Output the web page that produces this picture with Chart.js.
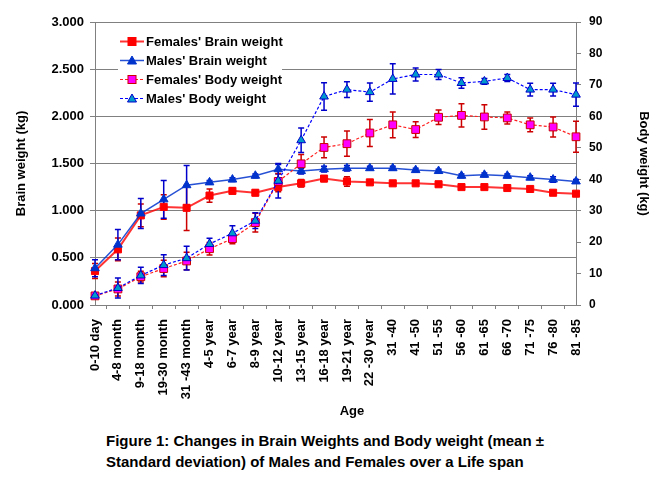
<!DOCTYPE html>
<html>
<head>
<meta charset="utf-8">
<script src="https://cdn.jsdelivr.net/npm/chart.js@4"></script>
<style>
    body { margin:0; background:#fff; font-family:Arial, "Liberation Sans", sans-serif; }
    #wrap { position:relative; width:660px; height:480px; }
    #box { position:absolute; left:0; top:0; width:660px; height:425px; }
    #legend { position:absolute; left:118px; top:30px; width:164px; height:78px; background:#fff; }
    .row { position:absolute; left:2px; height:19px; display:flex; align-items:center; font:bold 13px Arial, "Liberation Sans", sans-serif; color:#000; white-space:nowrap; }
    .row svg { margin-right:2px; }
    #age { position:absolute; left:352px; top:403px; transform:translateX(-50%); font:bold 13px Arial, "Liberation Sans", sans-serif; }
    #caption { position:absolute; left:106px; top:430px; font:bold 15px Arial, "Liberation Sans", sans-serif; line-height:21px; color:#000; }
</style>
</head>
<body>
<div id="wrap">
    <div id="box"><canvas id="chart"></canvas></div>
    <div id="legend"></div>
    <div id="age">Age</div>
    <div id="caption">Figure 1: Changes in Brain Weights and Body weight (mean ±<br>Standard deviation) of Males and Females over a Life span</div>
</div>
<script>
const ageGroups = ['0-10 day', '4-8 month', '9-18 month', '19-30 month', '31 -43 month', '4-5 year', '6-7 year', '8-9 year',
    '10-12 year', '13-15 year', '16-18 year', '19-21 year', '22 -30 year', '31 -40', '41 -50', '51 -55', '56 -60',
    '61 -65', '66 -70', '71 -75', '76 -80', '81 -85'];

// brain weight, kg (left axis)
const femaleBrain   = [0.36, 0.59, 0.95, 1.04, 1.03, 1.16, 1.21, 1.19, 1.25, 1.29, 1.34, 1.31, 1.30, 1.29, 1.29, 1.28, 1.25, 1.25, 1.24, 1.23, 1.19, 1.18];
const femaleBrainSd = [0.08, 0.12, 0.12, 0.13, 0.24, 0.07, 0.03, 0.03, 0.05, 0.04, 0.03, 0.05, 0.02, 0.02, 0.02, 0.02, 0.02, 0.02, 0.02, 0.02, 0.02, 0.02];
const maleBrain     = [0.39, 0.64, 0.97, 1.12, 1.27, 1.30, 1.33, 1.37, 1.44, 1.42, 1.44, 1.45, 1.45, 1.45, 1.43, 1.42, 1.37, 1.38, 1.37, 1.35, 1.33, 1.31];
const maleBrainSd   = [0.09, 0.16, 0.16, 0.20, 0.21, 0.02, 0.02, 0.02, 0.05, 0.03, 0.03, 0.03, 0.02, 0.02, 0.02, 0.02, 0.02, 0.02, 0.02, 0.02, 0.03, 0.02];

// body weight, kg (right axis)
const femaleBody    = [2.9, 5.1, 9.0, 11.6, 14.0, 17.9, 21.1, 26.2, 39.3, 44.9, 50.1, 51.3, 54.7, 57.3, 55.8, 59.7, 60.3, 59.8, 59.5, 57.3, 56.6, 53.5];
const femaleBodySd  = [0.5, 2.2, 1.7, 2.6, 2.8, 2.0, 1.6, 3.0, 2.5, 3.0, 3.3, 4.0, 4.3, 4.1, 2.5, 2.3, 3.7, 3.9, 1.9, 2.2, 3.2, 4.9];
const maleBody      = [3.0, 5.4, 9.4, 12.7, 14.9, 19.4, 22.8, 26.8, 39.5, 52.4, 66.3, 68.5, 67.7, 71.9, 73.3, 73.3, 70.6, 71.1, 72.2, 68.5, 68.5, 66.9];
const maleBodySd    = [0.5, 3.2, 2.6, 3.3, 3.8, 1.8, 2.4, 2.5, 5.5, 3.9, 4.4, 2.5, 2.9, 4.8, 2.1, 1.6, 1.7, 0.9, 1.1, 2.0, 2.0, 3.7];

const series = [
    { label:"Females' Brain weight", data:femaleBrain, sd:femaleBrainSd, axis:'y', line:'rgba(255,0,0,0.8)', fill:'#ff0000', edge:'#ff0000', shape:'rect', radius:5, dash:[], width:2, err:'#cc0000', order:3 },
    { label:"Males' Brain weight", data:maleBrain, sd:maleBrainSd, axis:'y', line:'rgba(0,51,204,0.85)', fill:'#0033cc', edge:'#0033cc', shape:'triangle', radius:5, dash:[], width:1.5, err:'#0000cc', order:2 },
    { label:"Females' Body weight", data:femaleBody, sd:femaleBodySd, axis:'y1', line:'#ff2020', fill:'#ff00ff', edge:'#cc0000', shape:'rect', radius:5.5, dash:[3, 2], width:1.2, err:'#cc0000', order:1 },
    { label:"Males' Body weight", data:maleBody, sd:maleBodySd, axis:'y1', line:'#0000ff', fill:'#0099cc', edge:'#0000cc', shape:'triangle', radius:5, dash:[3, 2], width:1.2, err:'#0000cc', order:0 }
];

const FONT = 'Arial, "Liberation Sans", sans-serif';
const AXIS = '#808080';

const errorBars = {
    id:'errorBars',
    beforeDatasetsDraw(chart) {
        const ctx = chart.ctx;
        series.forEach((s, i) => {
            const meta = chart.getDatasetMeta(i);
            const scale = chart.scales[s.axis];
            ctx.save();
            ctx.strokeStyle = s.err;
            ctx.lineWidth = 1.5;
            meta.data.forEach((pt, j) => {
                const top = scale.getPixelForValue(s.data[j] + s.sd[j]);
                const bot = scale.getPixelForValue(s.data[j] - s.sd[j]);
                ctx.beginPath();
                ctx.moveTo(pt.x, top); ctx.lineTo(pt.x, bot);
                ctx.moveTo(pt.x - 3, top); ctx.lineTo(pt.x + 3, top);
                ctx.moveTo(pt.x - 3, bot); ctx.lineTo(pt.x + 3, bot);
                ctx.stroke();
            });
            ctx.restore();
        });
    }
};

new Chart(document.getElementById('chart'), {
    type:'line',
    data:{
        labels:ageGroups,
        datasets:series.map(s => ({
            label:s.label,
            data:s.data,
            yAxisID:s.axis,
            borderColor:s.line,
            borderWidth:s.width,
            borderDash:s.dash,
            pointStyle:s.shape,
            pointRadius:s.radius,
            pointBackgroundColor:s.fill,
            pointBorderColor:s.edge,
            pointBorderWidth:1,
            tension:0,
            order:s.order
        }))
    },
    options:{
        responsive:true,
        maintainAspectRatio:false,
        animation:false,
        layout:{ padding:{ top:22, left:0, right:0, bottom:0 } },
        plugins:{ legend:{ display:false }, tooltip:{ enabled:false } },
        scales:{
            x:{
                grid:{ offset:true, drawOnChartArea:false, color:AXIS, tickLength:4 },
                border:{ color:AXIS, width:1 },
                ticks:{ color:'#000', font:{ family:FONT, size:13, weight:'bold' }, minRotation:90, maxRotation:90, padding:10, autoSkip:false },
                afterFit(scale) { scale.height = 120; }
            },
            y:{
                position:'left',
                min:0, max:3,
                grid:{ color:AXIS, tickLength:5, tickColor:AXIS },
                border:{ color:AXIS, width:1 },
                ticks:{ stepSize:0.5, color:'#000', font:{ family:FONT, size:13, weight:'bold' }, padding:6, callback:v => v.toFixed(3) },
                title:{ display:true, text:'Brain weight (kg)', color:'#000', font:{ family:FONT, size:13, weight:'bold' }, padding:{ top:14 } },
                afterFit(scale) { scale.width = 95; }
            },
            y1:{
                position:'right',
                min:0, max:90,
                grid:{ drawOnChartArea:false, color:AXIS, tickLength:5 },
                border:{ color:AXIS, width:1 },
                ticks:{ stepSize:10, color:'#000', font:{ family:FONT, size:12, weight:'bold' }, padding:8 },
                title:{ display:true, text:'Body weight (kg)', color:'#000', font:{ family:FONT, size:13, weight:'bold' }, padding:{ top:9 } },
                afterFit(scale) { scale.width = 84; }
            }
        }
    },
    plugins:[errorBars]
});

// legend drawn inside the plot area
const legend = document.getElementById('legend');
legend.innerHTML = series.map((s, i) => {
    const dash = s.dash.length ? ` stroke-dasharray="${s.dash.join(' ')}"` : '';
    const marker = s.shape === 'rect'
        ? `<rect x="8" y="2.5" width="8" height="8" fill="${s.fill}" stroke="${s.edge}" stroke-width="1"/>`
        : `<polygon points="12,2 16.5,10 7.5,10" fill="${s.fill}" stroke="${s.edge}" stroke-width="1"/>`;
    return `<div class="row" style="top:${i * 19 + 2}px">
        <svg width="24" height="13"><line x1="0" y1="6.5" x2="24" y2="6.5" stroke="${s.line}" stroke-width="${s.width}"${dash}/>${marker}</svg>
        ${s.label}
    </div>`;
}).join('');
</script>
</body>
</html>
